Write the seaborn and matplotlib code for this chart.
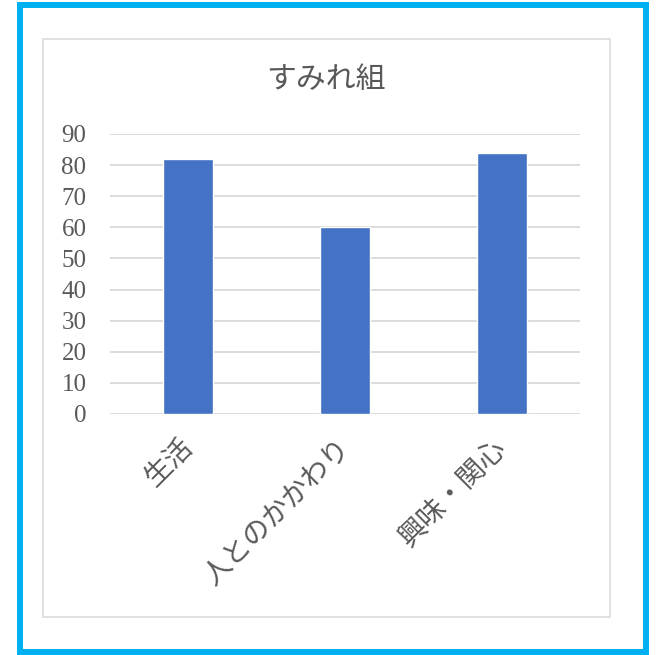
import matplotlib
matplotlib.use("Agg")
import matplotlib.pyplot as plt
import matplotlib.patches as mpatches
import seaborn as sns
import pandas as pd

# données
categories = ["生活", "人とのかかわり", "興味・関心"]
valeurs = [82, 60, 84]
graduations = [0, 10, 20, 30, 40, 50, 60, 70, 80, 90]
titre = "すみれ組"

df = pd.DataFrame({"categorie": categories, "valeur": valeurs})

sns.set_style("white")
plt.rcParams["font.family"] = ["Noto Sans CJK JP", "DejaVu Sans"]

gris = "#595959"
W, H = 663, 655
fig = plt.figure(figsize=(W / 100, H / 100), dpi=100)

# cadre bleu extérieur
fig.patches.append(mpatches.Rectangle((20 / W, 1 - 652 / H), 626 / W, 647 / H,
                                      transform=fig.transFigure, fill=False,
                                      edgecolor="#00B0F0", linewidth=4.3))
# cadre gris du graphique
fig.patches.append(mpatches.Rectangle((43 / W, 1 - 617 / H), 567 / W, 578 / H,
                                      transform=fig.transFigure, fill=False,
                                      edgecolor="#D9D9D9", linewidth=1.1))

ax = fig.add_axes([110 / W, 1 - 414 / H, 470 / W, 280 / H])
sns.barplot(data=df, x="categorie", y="valeur", color="#4472C4",
            saturation=1, width=0.32, ax=ax, zorder=3)

ax.set_ylim(0, 90)
ax.set_xlim(-0.5, 2.5)
ax.set_yticks(graduations)
ax.set_yticklabels([str(g) for g in graduations], family="Liberation Serif",
                   fontsize=18, color=gris)
ax.grid(axis="y", color="#D9D9D9", linewidth=1.3, zorder=0)
ax.set_axisbelow(True)
ax.tick_params(axis="y", length=0, pad=17)
ax.tick_params(axis="x", length=0, pad=21)
for lab in ax.get_xticklabels():
    lab.set_rotation(45)
    lab.set_rotation_mode("anchor")
    lab.set_ha("right")
    lab.set_va("center")
    lab.set_fontsize(20)
    lab.set_color(gris)
ax.set_xlabel("")
ax.set_ylabel("")
sns.despine(ax=ax, left=True, bottom=True, top=True, right=True)

fig.text(326 / W, 1 - 80 / H, titre, ha="center", va="center",
         fontsize=21.5, color=gris)

fig.savefig("out.png", dpi=100)
